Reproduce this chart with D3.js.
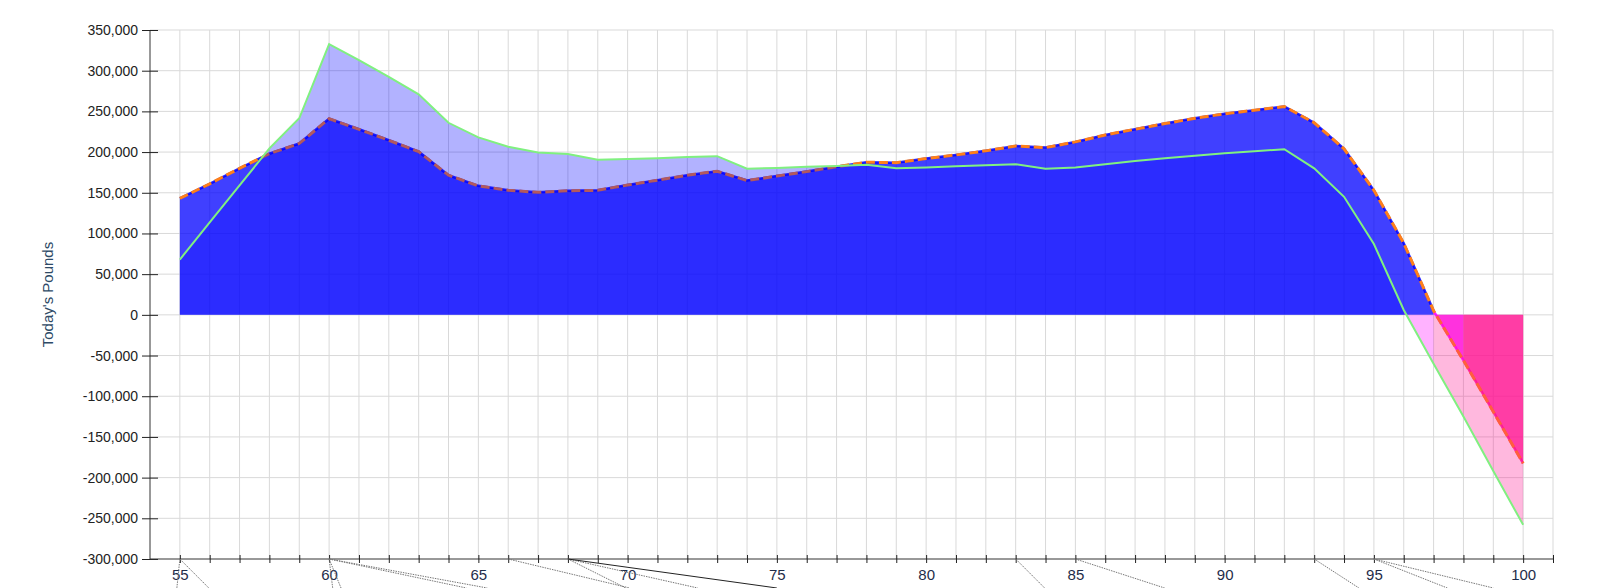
<!DOCTYPE html>
<html>
<head>
<meta charset="utf-8">
<script src="https://cdn.jsdelivr.net/npm/d3@7"></script>
<style>
  html, body { margin: 0; padding: 0; background: #fff; }
  svg { display: block; font-family: "Liberation Sans", Arial, sans-serif; }
</style>
</head>
<body>
<svg id="chart" width="1600" height="588"></svg>
<script>
// ---- data ----
const ages = [55,56,57,58,59,60,61,62,63,64,65,66,67,68,69,70,71,72,73,74,75,76,77,78,79,80,
              81,82,83,84,85,86,87,88,89,90,91,92,93,94,95,96,97,98,99,100];
// orange dashed series
const seriesA = [143000,161000,180000,198000,210500,241000,228000,214500,200500,171500,158500,153000,
                 150500,152500,153000,159500,165500,171500,176500,165000,170500,176000,182000,187500,
                 187000,192000,196500,201500,207500,205500,212500,221000,228000,235000,241500,247000,
                 251500,256000,236000,204000,153000,88000,5000,-56000,-119000,-182500];
// green series
const seriesB = [68000,113500,159000,204500,241500,332500,313000,292500,271000,236000,218000,206500,
                 199500,197500,190500,191500,192500,194000,195000,179500,180500,182000,183000,184500,
                 180000,181000,182500,183700,185000,179500,181000,185000,189000,192500,195500,198500,
                 201000,203500,180000,145000,87000,6000,-60000,-125000,-192000,-258000];
const yTickValues = [-300000,-250000,-200000,-150000,-100000,-50000,0,50000,100000,150000,200000,250000,300000,350000];
const xTickValues = [55,56,57,58,59,60,61,62,63,64,65,66,67,68,69,70,71,72,73,74,75,76,77,78,79,80,
                     81,82,83,84,85,86,87,88,89,90,91,92,93,94,95,96,97,98,99,100,101];
const xLabelAges = [55,60,65,70,75,80,85,90,95,100];
const yAxisTitle = "Today's Pounds";
// clipped leader lines under the axis: [from age, age where it leaves the picture, dark?]
const leaderLines = [[55,54.9,0],[55,55.97,0],[60,60.12,0],[60,60.4,0],[60,64.6,0],[60,65.3,0],
                     [66,70.07,0],[68,69.94,0],[68,72.35,0],[68,75.0,1],[83,83.97,0],[85,87.99,0],
                     [93,94.5,0],[95,97.46,0],[95,99.0,0]];

// ---- layout ----
const W = 1600, H = 588;
const L = 150, R = 1553, T = 30, B = 559;
const svg = d3.select("#chart");

const x = d3.scaleLinear().domain([54, 101]).range([L, R]);
const y = d3.scaleLinear().domain([-300000, 350000]).range([B, T]);

const fmt = v => d3.format(",")(v).replace("\u2212", "-");

// grid
const grid = svg.append("g").attr("stroke", "#d9d9d9").attr("stroke-width", 1);
grid.selectAll("line.v").data(xTickValues).join("line")
  .attr("x1", d => x(d)).attr("x2", d => x(d)).attr("y1", T).attr("y2", B);
grid.selectAll("line.h").data(yTickValues.filter(d => d > -300000)).join("line")
  .attr("x1", L).attr("x2", R).attr("y1", d => y(d)).attr("y2", d => y(d));

// segment colouring by sign
function segColor(v0, v1) {
  if (v0 >= 0 && v1 >= 0) return "#0000ff";
  if (v0 < 0 && v1 < 0) return "#ff1493";
  return "#ff00ff";
}
function runs(values) {
  const out = [];
  for (let i = 0; i < values.length - 1; i++) {
    const c = segColor(values[i], values[i + 1]);
    const last = out[out.length - 1];
    if (last && last.color === c) last.end = i + 1;
    else out.push({ color: c, start: i, end: i + 1 });
  }
  return out.map(r => ({
    color: r.color,
    pts: d3.range(r.start, r.end + 1).map(i => ({ age: ages[i], v: values[i] }))
  }));
}

const area = d3.area().x(d => x(d.age)).y0(y(0)).y1(d => y(d.v));
const line = d3.line().x(d => x(d.age)).y(d => y(d.v));
const ptsA = ages.map((a, i) => ({ age: a, v: seriesA[i] }));
const ptsB = ages.map((a, i) => ({ age: a, v: seriesB[i] }));

// series A area
const runsA = runs(seriesA);
svg.append("g").selectAll("path").data(runsA).join("path")
  .attr("d", d => area(d.pts)).attr("fill", d => d.color).attr("fill-opacity", 0.75);
// edge of A area under the dashes
svg.append("g").selectAll("path").data(runsA).join("path")
  .attr("d", d => line(d.pts)).attr("fill", "none").attr("stroke", d => d.color)
  .attr("stroke-opacity", 0.85).attr("stroke-width", 2.5);
svg.append("path").datum(ptsA).attr("d", line).attr("fill", "none")
  .attr("stroke", "#ff8019").attr("stroke-width", 3).attr("stroke-dasharray", "9,4");

// series B area
const runsB = runs(seriesB);
svg.append("g").selectAll("path").data(runsB).join("path")
  .attr("d", d => area(d.pts)).attr("fill", d => d.color).attr("fill-opacity", 0.3);
svg.append("path").datum(ptsB).attr("d", line).attr("fill", "none")
  .attr("stroke", "#80f080").attr("stroke-width", 2);

// y axis
const yAxis = svg.append("g").attr("transform", `translate(${L},0)`)
  .call(d3.axisLeft(y).tickValues(yTickValues).tickFormat(fmt).tickSize(8).tickPadding(4).tickSizeOuter(0));
yAxis.select(".domain").attr("stroke", "#333").attr("d", `M0,${T}V${B}`);
yAxis.selectAll(".tick line").attr("x2", -8).attr("x1", 8).attr("stroke", "#222");
yAxis.selectAll("text").attr("font-size", 14).attr("fill", "#222")
  .attr("font-family", "'Liberation Sans', Arial, sans-serif");

// x axis
const xAxis = svg.append("g").attr("transform", `translate(0,${B})`)
  .call(d3.axisBottom(x).tickValues(xTickValues)
    .tickFormat(d => xLabelAges.includes(d) ? d : "").tickSize(4).tickPadding(6).tickSizeOuter(0));
xAxis.select(".domain").attr("stroke", "#333").attr("d", `M${L},0H${R}`);
xAxis.selectAll(".tick line").attr("y1", -4).attr("y2", 4).attr("stroke", "#222");
xAxis.selectAll("text").attr("font-size", 15).attr("fill", "#1f2d4a")
  .attr("font-family", "'Liberation Sans', Arial, sans-serif");

// y axis title
svg.append("text").attr("transform", `translate(53,${(T + B) / 2 + 0}) rotate(-90)`)
  .attr("text-anchor", "middle").attr("font-size", 15).attr("fill", "#2e4a66")
  .attr("font-family", "'Liberation Sans', Arial, sans-serif").text(yAxisTitle);

// clipped leader lines below the axis
svg.append("g").selectAll("line").data(leaderLines).join("line")
  .attr("x1", d => x(d[0])).attr("y1", B)
  .attr("x2", d => x(d[1])).attr("y2", H)
  .attr("stroke", d => d[2] ? "#222" : "#777").attr("stroke-width", 1)
  .attr("stroke-dasharray", d => d[2] ? null : "1.5,1");
</script>
</body>
</html>
